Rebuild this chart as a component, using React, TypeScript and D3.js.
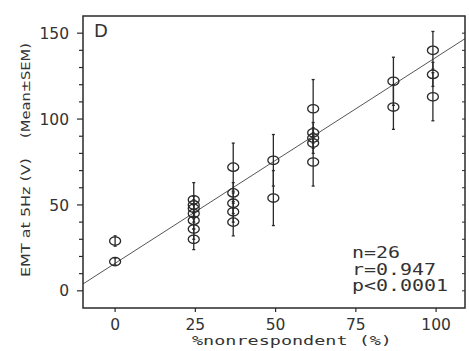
import React from "react";
import * as d3 from "d3";

const xGroups = [0, 0, 24.5, 24.5, 24.5, 24.5, 24.5, 24.5, 24.5, 36.8, 36.8, 36.8, 36.8, 36.8, 49.3, 49.3, 61.7, 61.7, 61.7, 61.7, 61.7, 86.7, 86.7, 99, 99, 99];
const yMeans = [29, 17, 53, 50, 48, 45, 41, 36, 30, 72, 57, 51, 46, 40, 76, 54, 106, 92, 89, 86, 75, 122, 107, 140, 126, 113];
const ySem = [3, 2, 10, 5, 5, 5, 5, 6, 6, 14, 6, 6, 6, 8, 15, 16, 17, 6, 6, 6, 14, 14, 13, 11, 7, 14];

const xTicks = [0, 25, 50, 75, 100];
const yTicks = [0, 50, 100, 150];
const yMinorTicks = [10, 20, 30, 40, 60, 70, 80, 90, 110, 120, 130, 140];
const fitIntercept = 16;
const fitSlope = 1.2;
const statLines = ["n=26", "r=0.947", "p<0.0001"];

export default function App() {
  const W = 469, H = 351;
  const left = 83, right = 465, top = 16, bottom = 308;
  const x = d3.scaleLinear().domain([-10, 109]).range([left, right]);
  const y = d3.scaleLinear().domain([-10, 160]).range([bottom, top]);
  const ink = "#2a2a2a";
  const line = d3.line<number>().x((d) => x(d)).y((d) => y(fitIntercept + fitSlope * d));
  const fitPath = line([-10, 109]) || "";
  const allYTicks = [...yTicks, ...yMinorTicks];

  return (
    <svg width={W} height={H} style={{ position: "absolute", left: 0, top: 0, background: "#fff" }}>
      <rect x={0} y={0} width={W} height={H} fill="#fff" />
      {/* regression line */}
      <path d={fitPath} stroke="#555" strokeWidth={1} fill="none" />
      {/* error bars */}
      {yMeans.map((m, i) => {
        const cx = x(xGroups[i]);
        return (
          <g key={"e" + i} stroke={ink} strokeWidth={1.3}>
            <line x1={cx} x2={cx} y1={y(m + ySem[i])} y2={y(m - ySem[i])} />
            <line x1={cx - 1.5} x2={cx + 1.5} y1={y(m + ySem[i])} y2={y(m + ySem[i])} />
            <line x1={cx - 1.5} x2={cx + 1.5} y1={y(m - ySem[i])} y2={y(m - ySem[i])} />
          </g>
        );
      })}
      {/* points */}
      {yMeans.map((m, i) => (
        <ellipse key={"p" + i} cx={x(xGroups[i])} cy={y(m)} rx={5.5} ry={4.2} fill="none" stroke={ink} strokeWidth={1.3} />
      ))}
      {/* frame */}
      <rect x={left} y={top} width={right - left} height={bottom - top} fill="none" stroke={ink} strokeWidth={1.5} />
      {/* left y ticks */}
      {allYTicks.map((t) => (
        <line key={"yl" + t} x1={left} x2={left - (yTicks.includes(t) ? 6 : 4)} y1={y(t)} y2={y(t)} stroke={ink} strokeWidth={1.2} />
      ))}
      {/* right y ticks */}
      {allYTicks.map((t) => (
        <line key={"yr" + t} x1={right} x2={right - 3} y1={y(t)} y2={y(t)} stroke={ink} strokeWidth={1} />
      ))}
      {yTicks.map((t) => (
        <text key={"yt" + t} x={69} y={y(t)} dy="0.36em" textAnchor="end" fontFamily="DejaVu Sans" fontSize={15.5} fill="#333">
          {t}
        </text>
      ))}
      {/* x ticks */}
      {xTicks.map((t) => (
        <line key={"xt" + t} x1={x(t)} x2={x(t)} y1={bottom} y2={bottom + 4} stroke={ink} strokeWidth={1.2} />
      ))}
      {xTicks.map((t) => (
        <text key={"xl" + t} x={x(t)} y={330} textAnchor="middle" fontFamily="DejaVu Sans" fontSize={15.5} fill="#333">
          {t}
        </text>
      ))}
      {/* x title */}
      <text x={192} y={345} fontFamily="DejaVu Sans Mono" fontSize={13} fill="#333" textLength={200} lengthAdjust="spacingAndGlyphs">
        %nonrespondent (%)
      </text>
      {/* y title */}
      <text transform="translate(30,277) rotate(-90)" fontFamily="DejaVu Sans" fontSize={13} fill="#333" textLength={119} lengthAdjust="spacingAndGlyphs">
        EMT at 5Hz (V)
      </text>
      <text transform="translate(30,138) rotate(-90)" fontFamily="DejaVu Sans" fontSize={12} fill="#333" textLength={95} lengthAdjust="spacingAndGlyphs">
        (Mean±SEM)
      </text>
      {/* panel letter */}
      <text x={94} y={37} fontFamily="DejaVu Sans" fontSize={18} fill="#333">
        D
      </text>
      {/* stats */}
      {statLines.map((s, i) => (
        <text key={s} x={352} y={258 + i * 16.5} fontFamily="DejaVu Sans Mono" fontSize={15} fill="#333" textLength={s.length * 12} lengthAdjust="spacingAndGlyphs">
          {s}
        </text>
      ))}
    </svg>
  );
}
